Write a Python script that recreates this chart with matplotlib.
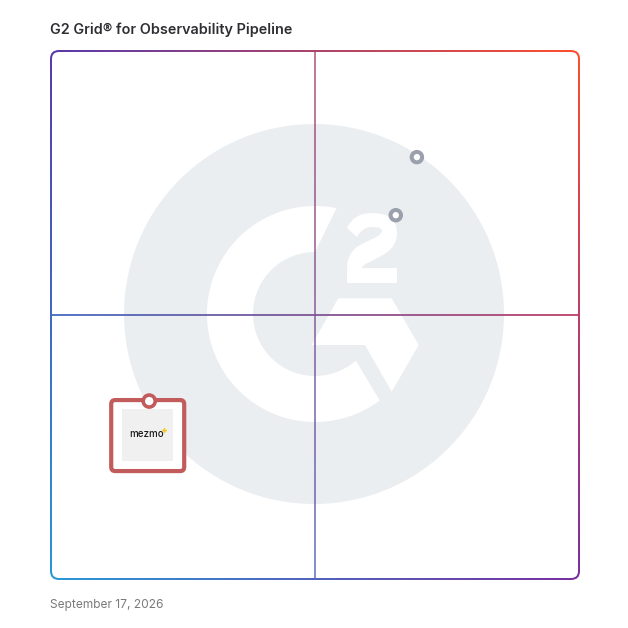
"""G2 Grid scatter: three products on a gradient-framed quadrant chart."""

import numpy as np
import matplotlib

matplotlib.use("Agg")
import matplotlib.pyplot as plt
from matplotlib.patches import Circle, FancyBboxPatch, PathPatch, Polygon, Rectangle
from matplotlib.path import Path

TITLE = "G2 Grid® for Observability Pipeline"
DATE_LABEL = "September 17, 2026"

# satisfaction (x) and market presence (y), 0-100 across the grid
other_x = [69.3, 65.3]
other_y = [79.9, 68.9]
featured_name = "mezmo"
featured_x = 18.6
featured_y = 33.7

SIZE = 628
GRID_LEFT, GRID_RIGHT = 51, 579
GRID_TOP, GRID_BOTTOM = 51, 579

# gradient corners, rows top to bottom
CORNERS = np.array([
    [[0x58, 0x3a, 0xab], [0xff, 0x4f, 0x2e]],
    [[0x2a, 0x98, 0xd8], [0x7a, 0x2f, 0xa0]],
]) / 255.0

LOGO_GREY = "#ebeef1"
RED = "#c25b5b"
GREY_MARK = "#9aa1ad"


def gradient(n=256):
    t = np.linspace(0, 1, n)
    u, v = np.meshgrid(t, t)
    u, v = u[..., None], v[..., None]
    return ((1 - u) * (1 - v) * CORNERS[0, 0] + u * (1 - v) * CORNERS[0, 1]
            + (1 - u) * v * CORNERS[1, 0] + u * v * CORNERS[1, 1])


def to_px(x, y):
    return (GRID_LEFT + x / 100 * (GRID_RIGHT - GRID_LEFT),
            GRID_BOTTOM - y / 100 * (GRID_BOTTOM - GRID_TOP))


def arc(cx, cy, r, a0, a1, n=120):
    a = np.radians(np.linspace(a0, a1, n))
    return np.column_stack([cx + r * np.cos(a), cy - r * np.sin(a)])


def draw_logo(ax):
    ax.add_patch(Circle((314, 314), 190, fc=LOGO_GREY, ec="none", zorder=3))
    # the C
    ring = np.vstack([arc(315, 314, 108, 78.5, 306.8), arc(315, 314, 62, 311.2, 90)])
    ax.add_patch(Polygon(ring, closed=True, fc="white", ec="none", zorder=3))
    # the chevron under the 2
    chevron = [(338.3, 298.3), (391.7, 298.3), (418.7, 345), (391.7, 391.7),
               (365, 345), (311.7, 345)]
    ax.add_patch(Polygon(chevron, closed=True, fc="white", ec="none", zorder=3))
    # the 2, outline traced in px
    verts = [(347, 228), (354, 213), (372, 213), (397, 213), (397, 233),
             (397, 248), (381, 256), (370, 262), (362, 265), (362, 268),
             (397, 268), (397, 283), (347, 283), (347, 268),
             (347, 254), (358, 246), (370, 240), (382, 235), (382, 231),
             (382, 227), (372, 227), (362, 227), (357, 237), (347, 228)]
    codes = [Path.MOVETO, Path.CURVE3, Path.CURVE3, Path.CURVE3, Path.CURVE3,
             Path.CURVE3, Path.CURVE3, Path.LINETO, Path.CURVE3, Path.CURVE3,
             Path.LINETO, Path.LINETO, Path.LINETO, Path.LINETO,
             Path.CURVE3, Path.CURVE3, Path.LINETO, Path.CURVE3, Path.CURVE3,
             Path.CURVE3, Path.CURVE3, Path.CURVE3, Path.CURVE3, Path.CLOSEPOLY]
    ax.add_patch(PathPatch(Path(verts, codes), fc="white", ec="none", zorder=3))


def draw_featured(ax):
    px, py = to_px(featured_x, featured_y)
    card = FancyBboxPatch((px - 38, py - 1), 73, 71, boxstyle="round,pad=0,rounding_size=4",
                          fc="white", ec=RED, lw=3.0, zorder=6)
    ax.add_patch(card)
    ax.add_patch(Rectangle((px - 27, py + 8), 51, 52, fc="#f0f0f0", ec="none", zorder=7))
    ax.text(px - 3, py + 33, featured_name, fontsize=7, fontweight="medium", family="Inter",
            color="#1a1a1a", ha="center", va="center", zorder=8)
    ax.plot([px + 14.5], [py + 29], marker="P", ms=3.4, color="#f5c518", mec="none", zorder=8)
    ax.add_patch(Circle((px, py), 6, fc="white", ec=RED, lw=2.6, zorder=9))


fig = plt.figure(figsize=(SIZE / 100, SIZE / 100), dpi=100, facecolor="white")
ax = fig.add_axes([0, 0, 1, 1])
ax.set_xlim(0, SIZE)
ax.set_ylim(SIZE, 0)
ax.axis("off")

grad = gradient()
extent = (GRID_LEFT - 1, GRID_RIGHT + 1, GRID_BOTTOM + 1, GRID_TOP - 1)

# frame: gradient clipped to a rounded square, white inside
outer = FancyBboxPatch((50, 50), 530, 530, boxstyle="round,pad=0,rounding_size=9",
                       fc="none", ec="none", transform=ax.transData)
ax.add_patch(outer)
im = ax.imshow(grad, extent=extent, aspect="auto", zorder=1, interpolation="bilinear")
im.set_clip_path(outer)
ax.add_patch(FancyBboxPatch((52, 52), 526, 526, boxstyle="round,pad=0,rounding_size=7",
                            fc="white", ec="none", zorder=2))

draw_logo(ax)

# quadrant lines share the frame gradient, the vertical one is paler
mid_x, mid_y = to_px(50, 50)
for clip, alpha in [((mid_x - 1, 52, 2, 526), 0.72), ((52, mid_y - 0.75, 526, 1.5), 0.9)]:
    rect = Rectangle(clip[:2], clip[2], clip[3], fc="none", ec="none")
    ax.add_patch(rect)
    line = ax.imshow(grad, extent=extent, aspect="auto", zorder=4, alpha=alpha,
                     interpolation="bilinear")
    line.set_clip_path(rect)

ax.set_xlim(0, SIZE)
ax.set_ylim(SIZE, 0)

for x, y in zip(other_x, other_y):
    ax.add_patch(Circle(to_px(x, y), 5.2, fc="white", ec=GREY_MARK, lw=2.9, zorder=5))

draw_featured(ax)

ax.text(50, 29.5, TITLE, fontsize=10.35, fontweight="semibold", family="Inter", color="#2e2e33",
        ha="left", va="center")
ax.text(50, 605, DATE_LABEL, fontsize=8.6, family="Inter", color="#7a7a7a",
        ha="left", va="center")

fig.savefig("out.png", dpi=100)
plt.close(fig)
